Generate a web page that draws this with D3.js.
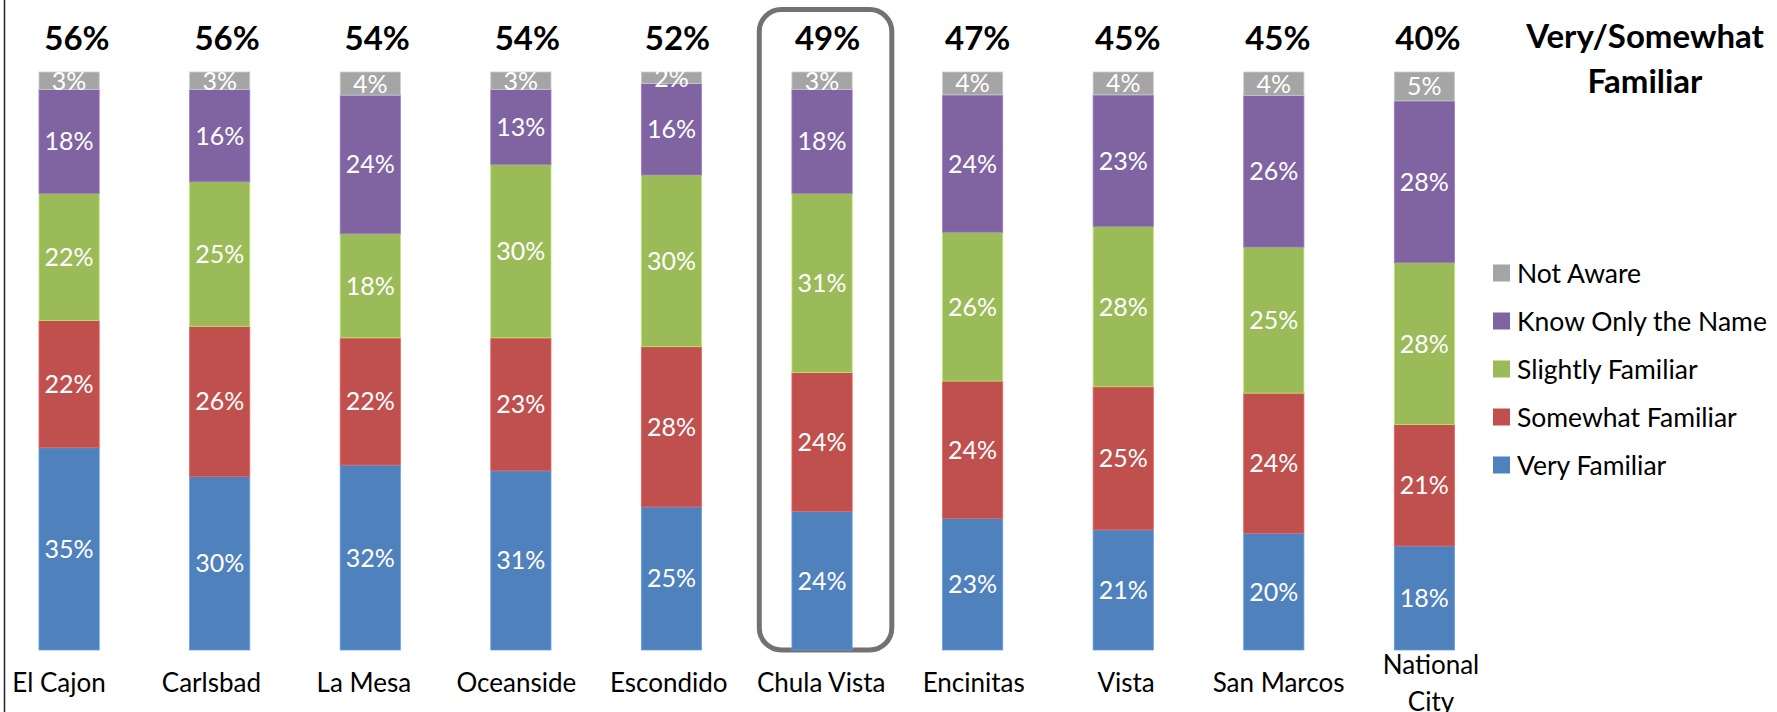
<!DOCTYPE html>
<html>
<head>
<meta charset="utf-8">
<script src="https://cdn.jsdelivr.net/npm/d3@7"></script>
<style>
  html, body { margin: 0; padding: 0; background: #fff; }
  svg { display: block; font-family: Lato, "Open Sans", sans-serif; }
</style>
</head>
<body>
<svg id="chart" width="1777" height="712"></svg>
<script>
// Familiarity with each city, share of respondents (%)
const cities = ["El Cajon", "Carlsbad", "La Mesa", "Oceanside", "Escondido",
                "Chula Vista", "Encinitas", "Vista", "San Marcos", "National City"];
const veryFamiliar     = [35, 30, 32, 31, 25, 24, 23, 21, 20, 18];
const somewhatFamiliar = [22, 26, 22, 23, 28, 24, 24, 25, 24, 21];
const slightlyFamiliar = [22, 25, 18, 30, 30, 31, 26, 28, 25, 28];
const knowOnlyName     = [18, 16, 24, 13, 16, 18, 24, 23, 26, 28];
const notAware         = [3, 3, 4, 3, 2, 3, 4, 4, 4, 5];
// Combined "Very" + "Somewhat" familiar, shown above each bar
const verySomewhat     = [56, 56, 54, 54, 52, 49, 47, 45, 45, 40];

const seriesKeys  = ["very", "somewhat", "slightly", "nameOnly", "notAware"];
const seriesNames = ["Very Familiar", "Somewhat Familiar", "Slightly Familiar",
                     "Know Only the Name", "Not Aware"];
const seriesColors = ["#4F81BD", "#C0504D", "#9BBB59", "#8064A2", "#A5A5A5"];
const highlightCity = "Chula Vista";
const summaryTitle = ["Very/Somewhat", "Familiar"];

const rows = cities.map((c, i) => ({
  city: c,
  very: veryFamiliar[i],
  somewhat: somewhatFamiliar[i],
  slightly: slightlyFamiliar[i],
  nameOnly: knowOnlyName[i],
  notAware: notAware[i],
  total: verySomewhat[i]
}));

const svg = d3.select("#chart");

// Bar positions
const x = d3.scaleBand()
  .domain(cities)
  .range([4.5, 1489])
  .paddingInner(0.6)
  .paddingOuter(0.229);

// Category label strip spans slightly wider than the bars
const xLabel = d3.scalePoint().domain(cities).range([59, 1431]);
// Summary figures sit in their own row of text boxes above the bars
const xTotal = d3.scalePoint().domain(cities).range([77, 1428]);

const y = d3.scaleLinear().domain([0, 1]).range([650, 72]);

const color = d3.scaleOrdinal().domain(seriesKeys).range(seriesColors);

// 100% stacked layout
const stacked = d3.stack().keys(seriesKeys).offset(d3.stackOffsetExpand)(rows);

// Left axis line
svg.append("line")
  .attr("x1", 4.5).attr("x2", 4.5)
  .attr("y1", 0).attr("y2", 712)
  .attr("stroke", "#222").attr("stroke-width", 1.5);

// Highlight frame around the focus city
const hx = x(highlightCity) + x.bandwidth() / 2 + 3.5;
const half = x.step() * 0.44;
svg.append("rect")
  .attr("x", hx - half).attr("y", 9.5)
  .attr("width", half * 2).attr("height", y(0) - 9.5)
  .attr("rx", 22).attr("ry", 22)
  .attr("fill", "none")
  .attr("stroke", "#767171")
  .attr("stroke-width", 5);

// Bars
const layers = svg.append("g").selectAll("g")
  .data(stacked)
  .join("g")
  .attr("fill", d => color(d.key));

layers.selectAll("rect")
  .data(d => d.map(s => ({ s, key: d.key })))
  .join("rect")
  .attr("x", d => x(d.s.data.city))
  .attr("y", d => y(d.s[1]))
  .attr("width", x.bandwidth())
  .attr("height", d => y(d.s[0]) - y(d.s[1]))
  .attr("stroke", d => d3.color(color(d.key)).brighter(0.6))
  .attr("stroke-width", 0.8);

// Segment value labels
layers.selectAll("text")
  .data(d => d.map(s => ({ s, key: d.key })))
  .join("text")
  .attr("x", d => x(d.s.data.city) + x.bandwidth() / 2)
  .attr("y", d => (y(d.s[0]) + y(d.s[1])) / 2)
  .attr("dy", "0.36em")
  .attr("text-anchor", "middle")
  .attr("fill", "#fff")
  .attr("font-size", 25)
  .text(d => d.s.data[d.key] + "%");

// Combined percentage above each bar
svg.append("g").selectAll("text")
  .data(rows)
  .join("text")
  .attr("x", d => xTotal(d.city))
  .attr("y", 49.5)
  .attr("text-anchor", "middle")
  .attr("font-weight", "bold")
  .attr("font-size", 33)
  .attr("fill", "#000")
  .text(d => d.total + "%");

// Category axis labels, wrapped and vertically centred
const labelG = svg.append("g");
rows.forEach(d => {
  const cx = xLabel(d.city);
  const t = labelG.append("text")
    .attr("x", cx)
    .attr("text-anchor", "middle")
    .attr("font-size", 26)
    .attr("fill", "#000");
  const words = d.city.split(" ");
  const lines = [];
  let line = [];
  const probe = t.append("tspan");
  words.forEach(w => {
    line.push(w);
    probe.text(line.join(" "));
    if (probe.node().getComputedTextLength() > 145 && line.length > 1) {
      line.pop();
      lines.push(line.join(" "));
      line = [w];
    }
  });
  lines.push(line.join(" "));
  probe.remove();
  const lh = 37;
  const baseY = 692 - (lines.length - 1) * lh / 2;
  lines.forEach((l, i) => {
    t.append("tspan")
      .attr("x", cx)
      .attr("y", baseY + i * lh)
      .text(l);
  });
});

// Summary title
svg.append("text")
  .attr("x", 1645)
  .attr("y", 48)
  .attr("text-anchor", "middle")
  .attr("font-weight", "bold")
  .attr("font-size", 33)
  .selectAll("tspan")
  .data(summaryTitle)
  .join("tspan")
  .attr("x", 1645)
  .attr("dy", (d, i) => i === 0 ? 0 : 45)
  .text(d => d);

// Legend (top of stack first)
const legendOrder = seriesKeys.slice().reverse();
const legend = svg.append("g").selectAll("g")
  .data(legendOrder)
  .join("g")
  .attr("transform", (d, i) => `translate(1493, ${273 + i * 48})`);

legend.append("rect")
  .attr("x", 0).attr("y", -8.5)
  .attr("width", 17).attr("height", 17)
  .attr("fill", d => color(d));

legend.append("text")
  .attr("x", 24)
  .attr("y", 0)
  .attr("dy", "0.36em")
  .attr("font-size", 26.5)
  .attr("fill", "#000")
  .text(d => seriesNames[seriesKeys.indexOf(d)]);
</script>
</body>
</html>
